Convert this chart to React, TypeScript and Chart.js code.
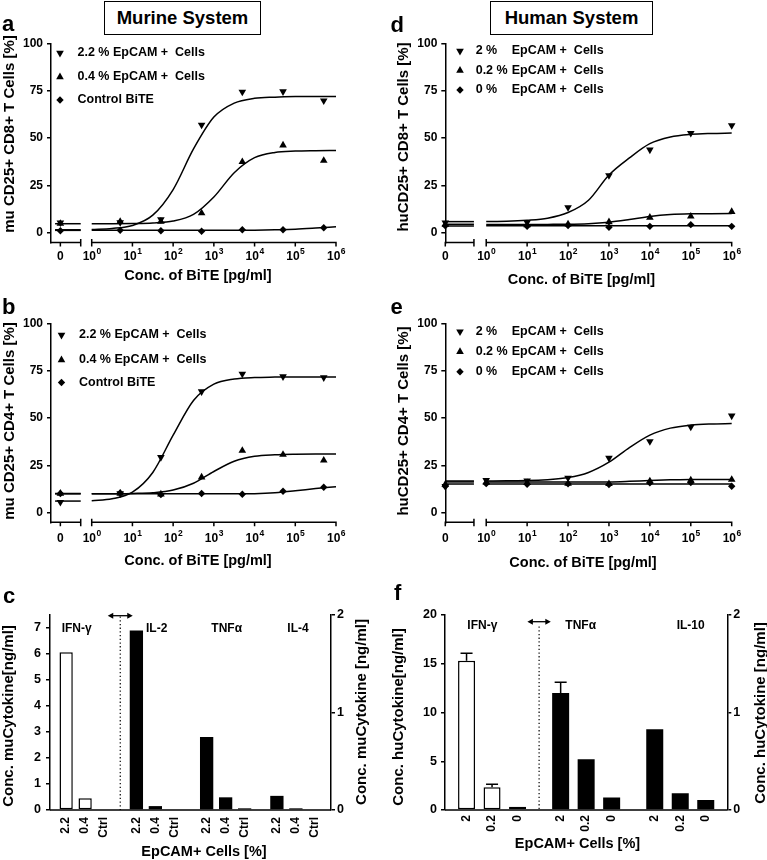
import React, { useEffect, useRef } from 'react';
import { Chart, registerables } from 'chart.js';

Chart.register(...registerables);

const FONT = '"Liberation Sans", Arial, Helvetica, sans-serif';
const BLACK = '#000';
Chart.defaults.font.family = FONT;
Chart.defaults.font.weight = 'bold';
Chart.defaults.color = BLACK;

// ---------------- data: dose-response panels ----------------
const CONC_MU = [0, 5, 50, 500, 5000, 50000, 500000];
const CONC_HU_D = [0, 10, 100, 1000, 10000, 100000, 1000000];
const CONC_HU_E = [0, 1, 10, 100, 1000, 10000, 100000, 1000000];
const FIT_LOG_X = [0, 0.5, 1, 1.5, 2, 2.5, 3, 3.5, 4, 4.5, 5, 5.5, 6];
const X_EXPONENTS = [0, 1, 2, 3, 4, 5, 6];
const Y_TICKS_PCT = [0, 25, 50, 75, 100];
const X_TITLE = 'Conc. of BiTE [pg/ml]';

const MU_LEGEND = ['2.2 % EpCAM +  Cells', '0.4 % EpCAM +  Cells', 'Control BiTE'];
const HU_LEGEND_PCT = ['2 %', '0.2 %', '0 %'];
const HU_LEGEND_REST = ['EpCAM +  Cells', 'EpCAM +  Cells', 'EpCAM +  Cells'];

// panel a : mu CD8
const A_HIGH = [5.5, 5.6, 7.2, 57.0, 74.4, 74.6, 69.8];
const A_LOW = [5.0, 6.0, 6.1, 10.5, 37.5, 46.3, 38.2];
const A_CTRL = [1.2, 1.4, 1.2, 0.9, 1.7, 1.7, 2.8];
const A_HIGH_FIT = [1.9, 2.4, 4.0, 9.4, 22.9, 44.3, 61.1, 68.5, 71.0, 71.6, 71.9, 72.0, 72.0];
const A_LOW_FIT = [4.9, 4.9, 5.0, 5.3, 6.3, 9.8, 19.0, 31.8, 39.7, 42.5, 43.2, 43.4, 43.5];
const A_CTRL_FIT = [1.4, 1.4, 1.4, 1.4, 1.4, 1.4, 1.4, 1.4, 1.5, 1.7, 2.0, 2.6, 3.3];
const A_BREAK = [1.7, 4.9, 1.4];

// panel b : mu CD4
const B_HIGH = [5.6, 10.2, 29.3, 64.0, 73.3, 71.9, 71.4];
const B_LOW = [10.2, 10.2, 9.8, 18.8, 32.8, 30.7, 27.7];
const B_CTRL = [10.2, 10.5, 9.6, 10.2, 9.8, 11.4, 13.5];
const B_HIGH_FIT = [6.4, 7.4, 10.9, 21.3, 41.0, 59.3, 67.9, 70.6, 71.4, 71.6, 71.7, 71.7, 71.7];
const B_LOW_FIT = [10.0, 10.0, 10.2, 10.6, 12.0, 15.6, 21.8, 27.2, 29.8, 30.6, 30.9, 31.0, 31.0];
const B_CTRL_FIT = [10.0, 10.0, 10.0, 10.0, 10.0, 10.0, 10.0, 10.0, 10.1, 10.6, 11.6, 12.8, 13.8];
const B_BREAK = [6.2, 10.0, 10.2];

// panel d : hu CD8
const D_HIGH = [5.5, 5.6, 13.5, 30.4, 43.9, 52.6, 56.7];
const D_LOW = [4.5, 4.2, 4.7, 5.8, 8.2, 8.8, 11.2];
const D_CTRL = [3.8, 3.5, 4.0, 3.0, 3.5, 4.4, 3.5];
const D_HIGH_FIT = [6.1, 6.2, 6.7, 7.8, 10.8, 17.3, 30.6, 39.6, 47.1, 50.6, 52.0, 52.5, 52.7];
const D_LOW_FIT = [4.5, 4.5, 4.5, 4.55, 4.6, 4.9, 5.7, 7.1, 8.7, 9.7, 10.1, 10.2, 10.3];
const D_CTRL_FIT = [3.8, 3.8, 3.8, 3.8, 3.8, 3.8, 3.8, 3.8, 3.8, 3.8, 3.8, 3.8, 3.8];
const D_BREAK = [6.0, 4.6, 3.7];

// panel e : hu CD4
const E_HIGH = [14.0, 17.2, 17.0, 18.4, 28.9, 37.7, 45.3, 51.2];
const E_LOW = [15.0, 16.1, 15.8, 15.4, 15.3, 16.7, 17.2, 17.5];
const E_CTRL = [14.0, 15.4, 15.1, 15.3, 14.9, 15.8, 16.0, 14.0];
const E_HIGH_FIT = [16.8, 16.9, 17.0, 17.5, 18.6, 21.3, 26.7, 34.4, 41.0, 44.7, 46.3, 46.9, 47.1];
const E_LOW_FIT = [16.3, 16.3, 16.3, 16.3, 16.3, 16.3, 16.3, 16.6, 17.1, 17.4, 17.6, 17.6, 17.6];
const E_CTRL_FIT = [15.2, 15.2, 15.2, 15.2, 15.2, 15.2, 15.2, 15.2, 15.2, 15.2, 15.2, 15.2, 15.2];
const E_BREAK = [16.8, 16.3, 15.2];

// ---------------- data: cytokine panels ----------------
const C_CYTOKINES = ['IFN-γ', 'IL-2', 'TNFα', 'IL-4'];
const C_LEVELS = ['2.2', '0.4', 'Ctrl'];
const C_IFN = [6.06, 0.45, 0];
const C_IL2 = [1.84, 0.04, 0];
const C_TNF = [0.75, 0.13, 0.017];
const C_IL4 = [0.145, 0.017, 0];
const C_LEFT_TICKS = [0, 1, 2, 3, 4, 5, 6, 7];

const F_CYTOKINES = ['IFN-γ', 'TNFα', 'IL-10'];
const F_LEVELS = ['2', '0.2', '0'];
const F_IFN = [15.3, 2.33, 0.34];
const F_IFN_ERR = [0.77, 0.31, 0];
const F_TNF = [1.2, 0.52, 0.127];
const F_TNF_ERR = [0.11, 0, 0];
const F_IL10 = [0.827, 0.171, 0.103];
const F_IL10_ERR = [0, 0, 0];
const F_LEFT_TICKS = [0, 5, 10, 15, 20];
const RIGHT_TICKS = [0, 1, 2];

// ---------------- helpers ----------------
const STYLES = ['triangle', 'triangle', 'rectRot'];
const ROTS = [180, 0, 0];
const RADII = [4.4, 4.4, 3.7];

function toX(c: number, zeroPos: number) {
  return c === 0 ? zeroPos : Math.log10(c);
}

function drawMarker(ctx: CanvasRenderingContext2D, i: number, x: number, y: number) {
  const r = RADII[i];
  ctx.beginPath();
  if (i === 0) {
    ctx.moveTo(x, y + r);
    ctx.lineTo(x - r * 0.866, y - r * 0.5);
    ctx.lineTo(x + r * 0.866, y - r * 0.5);
  } else if (i === 1) {
    ctx.moveTo(x, y - r);
    ctx.lineTo(x - r * 0.866, y + r * 0.5);
    ctx.lineTo(x + r * 0.866, y + r * 0.5);
  } else {
    ctx.moveTo(x, y - r);
    ctx.lineTo(x + r, y);
    ctx.lineTo(x, y + r);
    ctx.lineTo(x - r, y);
  }
  ctx.closePath();
  ctx.fill();
}

function drawPow(ctx: CanvasRenderingContext2D, cx: number, y: number, e: number) {
  ctx.font = `bold 12px ${FONT}`;
  const w10 = ctx.measureText('10').width;
  ctx.font = `bold 8.5px ${FONT}`;
  const we = ctx.measureText(String(e)).width;
  const start = cx - (w10 + we) / 2;
  ctx.textAlign = 'left';
  ctx.font = `bold 12px ${FONT}`;
  ctx.fillText('10', start, y);
  ctx.font = `bold 8.5px ${FONT}`;
  ctx.fillText(String(e), start + w10 + 0.5, y - 5);
  ctx.textAlign = 'center';
}

function drawRotText(ctx: CanvasRenderingContext2D, t: string, x: number, y: number, align: CanvasTextAlign) {
  ctx.save();
  ctx.translate(x, y);
  ctx.rotate(-Math.PI / 2);
  ctx.textAlign = align;
  ctx.textBaseline = 'middle';
  ctx.fillText(t, 0, 0);
  ctx.restore();
}

function drawLetter(ctx: CanvasRenderingContext2D, l: string, x: number, y: number) {
  ctx.font = `bold 22px ${FONT}`;
  ctx.textAlign = 'left';
  ctx.textBaseline = 'alphabetic';
  ctx.fillText(l, x, y);
}

// ---------------- dose-response panel ----------------
type LineCfg = {
  letter: string; letterX: number; letterY: number;
  left: number; top: number; w: number; h: number;
  yW: number; padT: number; padR: number; padB: number;
  xMin: number; zeroPos: number; segEnd: number; breakStart: number;
  conc: number[]; points: number[][]; fits: number[][]; breaks: number[];
  yTitle: string; yTitleX: number; yTitleY: number;
  tickDy: number; titleDy: number; titleX: number;
  legendX: number; legendTextX: number; legendRestX: number; legendRows: number[];
  legend: string[]; legendRest?: string[];
};

const LINE_PANELS: LineCfg[] = [
  {
    letter: 'a', letterX: 2, letterY: 31, left: 0, top: 0, w: 383, h: 290,
    yW: 51, padT: 43.3, padR: 47, padB: 47.5,
    xMin: -1.0, zeroPos: -0.77, segEnd: -0.27, breakStart: -0.9,
    conc: CONC_MU, points: [A_HIGH, A_LOW, A_CTRL], fits: [A_HIGH_FIT, A_LOW_FIT, A_CTRL_FIT], breaks: A_BREAK,
    yTitle: 'mu CD25+ CD8+ T Cells [%]', yTitleX: 10, yTitleY: 134,
    tickDy: 14, titleDy: 33, titleX: 198,
    legendX: 60, legendTextX: 77.5, legendRestX: 0, legendRows: [53, 77, 100], legend: MU_LEGEND,
  },
  {
    letter: 'b', letterX: 2, letterY: 24, left: 0, top: 290, w: 383, h: 290,
    yW: 51, padT: 33.3, padR: 47, padB: 57.7,
    xMin: -1.0, zeroPos: -0.77, segEnd: -0.27, breakStart: -0.9,
    conc: CONC_MU, points: [B_HIGH, B_LOW, B_CTRL], fits: [B_HIGH_FIT, B_LOW_FIT, B_CTRL_FIT], breaks: B_BREAK,
    yTitle: 'mu CD25+ CD4+ T Cells [%]', yTitleX: 10, yTitleY: 131,
    tickDy: 16, titleDy: 38.5, titleX: 198,
    legendX: 61.5, legendTextX: 79, legendRestX: 0, legendRows: [45, 70, 92.5], legend: MU_LEGEND,
  },
  {
    letter: 'd', letterX: 6.5, letterY: 32, left: 384, top: 0, w: 383, h: 290,
    yW: 61.3, padT: 43.3, padR: 35.3, padB: 47.5,
    xMin: -1.0, zeroPos: -1.0, segEnd: -0.3, breakStart: -0.99,
    conc: CONC_HU_D, points: [D_HIGH, D_LOW, D_CTRL], fits: [D_HIGH_FIT, D_LOW_FIT, D_CTRL_FIT], breaks: D_BREAK,
    yTitle: 'huCD25+ CD8+ T Cells [%]', yTitleX: 20, yTitleY: 137,
    tickDy: 14.5, titleDy: 37.5, titleX: 197.5,
    legendX: 76, legendTextX: 91.7, legendRestX: 127.7, legendRows: [51, 70.5, 90], legend: HU_LEGEND_PCT, legendRest: HU_LEGEND_REST,
  },
  {
    letter: 'e', letterX: 6.5, letterY: 24, left: 384, top: 290, w: 383, h: 290,
    yW: 61.3, padT: 33.3, padR: 35.3, padB: 57.7,
    xMin: -1.0, zeroPos: -1.0, segEnd: -0.3, breakStart: -0.99,
    conc: CONC_HU_E, points: [E_HIGH, E_LOW, E_CTRL], fits: [E_HIGH_FIT, E_LOW_FIT, E_CTRL_FIT], breaks: E_BREAK,
    yTitle: 'huCD25+ CD4+ T Cells [%]', yTitleX: 20, yTitleY: 131,
    tickDy: 16, titleDy: 41, titleX: 199,
    legendX: 76, legendTextX: 91.7, legendRestX: 127.7, legendRows: [41.7, 61.7, 81.7], legend: HU_LEGEND_PCT, legendRest: HU_LEGEND_REST,
  },
];

function makeLinePlugin(c: LineCfg) {
  return {
    id: 'lineDecor',
    afterDraw(chart: any) {
      const ctx: CanvasRenderingContext2D = chart.ctx;
      const a = chart.chartArea;
      const xs = chart.scales.x;
      const px = (v: number) => xs.getPixelForValue(v);
      const y0 = a.bottom;
      ctx.save();
      ctx.strokeStyle = BLACK;
      ctx.fillStyle = BLACK;
      ctx.lineWidth = 1.5;
      ctx.beginPath();
      ctx.moveTo(a.left - 0.75, y0);
      ctx.lineTo(px(c.segEnd), y0);
      ctx.moveTo(px(0), y0);
      ctx.lineTo(px(6) + 0.75, y0);
      for (const v of [c.segEnd, 0]) {
        ctx.moveTo(px(v), y0 - 3.5);
        ctx.lineTo(px(v), y0 + 4);
      }
      for (const v of [c.zeroPos, ...X_EXPONENTS]) {
        ctx.moveTo(px(v), y0);
        ctx.lineTo(px(v), y0 + 4);
      }
      ctx.stroke();

      ctx.textBaseline = 'middle';
      ctx.textAlign = 'center';
      ctx.font = `bold 12px ${FONT}`;
      const ly = y0 + c.tickDy;
      ctx.fillText('0', px(c.zeroPos), ly);
      X_EXPONENTS.forEach((e) => drawPow(ctx, px(e), ly, e));

      ctx.font = `bold 14.5px ${FONT}`;
      ctx.textAlign = 'center';
      ctx.fillText(X_TITLE, c.titleX, y0 + c.titleDy);
      ctx.font = `bold 15px ${FONT}`;
      drawRotText(ctx, c.yTitle, c.yTitleX, c.yTitleY, 'center');

      ctx.font = `bold 12.5px ${FONT}`;
      ctx.textAlign = 'left';
      ctx.textBaseline = 'middle';
      c.legendRows.forEach((ry, i) => {
        drawMarker(ctx, i, c.legendX, ry);
        ctx.fillText(c.legend[i], c.legendTextX, ry);
        if (c.legendRest) ctx.fillText(c.legendRest[i], c.legendRestX, ry);
      });

      drawLetter(ctx, c.letter, c.letterX, c.letterY);
      ctx.restore();
    },
  };
}

function LinePanel({ c }: { c: LineCfg }) {
  const ref = useRef<HTMLCanvasElement>(null);
  useEffect(() => {
    const datasets: any[] = [];
    c.fits.forEach((f) => {
      datasets.push({
        type: 'line',
        data: FIT_LOG_X.map((x, k) => ({ x, y: f[k] })),
        borderColor: BLACK, borderWidth: 1.5, pointRadius: 0,
        cubicInterpolationMode: 'monotone', fill: false, clip: false,
      });
    });
    c.breaks.forEach((v) => {
      datasets.push({
        type: 'line',
        data: [{ x: c.breakStart, y: v }, { x: c.segEnd, y: v }],
        borderColor: BLACK, borderWidth: 1.5, pointRadius: 0, fill: false, clip: false,
      });
    });
    c.points.forEach((s, i) => {
      datasets.push({
        type: 'scatter',
        data: c.conc.map((cc, k) => ({ x: toX(cc, c.zeroPos), y: s[k] })),
        pointStyle: STYLES[i], rotation: ROTS[i], pointRadius: RADII[i],
        backgroundColor: BLACK, borderColor: BLACK, borderWidth: 0,
        showLine: false, clip: false,
      });
    });
    const chart = new Chart(ref.current as HTMLCanvasElement, {
      type: 'scatter',
      data: { datasets },
      options: {
        animation: false,
        responsive: false,
        maintainAspectRatio: false,
        events: [],
        layout: { padding: { left: 0, top: c.padT, right: c.padR, bottom: c.padB } },
        plugins: { legend: { display: false }, tooltip: { enabled: false } },
        scales: {
          x: { type: 'linear', display: false, min: c.xMin, max: 6 },
          y: {
            type: 'linear', min: -5, max: 100,
            afterFit: (s: any) => { s.width = c.yW; },
            afterBuildTicks: (s: any) => { s.ticks = Y_TICKS_PCT.map((v) => ({ value: v })); },
            border: { color: BLACK, width: 1.5 },
            grid: { drawOnChartArea: false, drawTicks: true, tickLength: 4, color: BLACK, lineWidth: 1.5 },
            ticks: { color: BLACK, font: { size: 12, weight: 'bold' }, padding: 4 },
          },
        },
      } as any,
      plugins: [makeLinePlugin(c)],
    });
    return () => chart.destroy();
  }, []);
  return (
    <canvas ref={ref} width={c.w} height={c.h}
      style={{ position: 'absolute', left: c.left, top: c.top, width: c.w, height: c.h }} />
  );
}

// ---------------- cytokine panel ----------------
type BarCfg = {
  letter: string; letterX: number; letterY: number;
  left: number; top: number; w: number; h: number;
  yLW: number; yRW: number; padT: number; padB: number;
  lMax: number; lTicks: number[]; lPad: number; rPad: number;
  cyto: string[]; levels: string[];
  leftVals: number[]; leftErr?: number[];
  rightVals: number[][]; rightErr?: number[][];
  catPct: number; barPct: number;
  cytoPos: number[][];
  yTitleL: string; yTitleLX: number; yTitleLY: number;
  yTitleR: string; yTitleRX: number; yTitleRY: number;
  arrowY: number; arrowHW: number; dotTop: number; labelGap: number;
  xTitleX: number; xTitleY: number;
};

const BAR_PANELS: BarCfg[] = [
  {
    letter: 'c', letterX: 3, letterY: 23, left: 0, top: 580, w: 383, h: 280,
    yLW: 50, yRW: 52, padT: 35, padB: 50,
    lMax: 7.49, lTicks: C_LEFT_TICKS, lPad: 5, rPad: 2,
    cyto: C_CYTOKINES, levels: C_LEVELS,
    leftVals: C_IFN, rightVals: [C_IL2, C_TNF, C_IL4],
    catPct: 0.811, barPct: 0.7,
    cytoPos: [[76.7, 48.5], [156.7, 48.5], [226.7, 48.5], [298, 48.5]],
    yTitleL: 'Conc. muCytokine[ng/ml]', yTitleLX: 9, yTitleLY: 136,
    yTitleR: 'Conc. muCytokine [ng/ml]', yTitleRX: 362, yTitleRY: 132,
    arrowY: 35.7, arrowHW: 12.5, dotTop: 36.5, labelGap: 7,
    xTitleX: 204, xTitleY: 272,
  },
  {
    letter: 'f', letterX: 10, letterY: 20, left: 384, top: 580, w: 383, h: 280,
    yLW: 61, yRW: 39.7, padT: 35, padB: 50,
    lMax: 20, lTicks: F_LEFT_TICKS, lPad: 4, rPad: 2,
    cyto: F_CYTOKINES, levels: F_LEVELS,
    leftVals: F_IFN, leftErr: F_IFN_ERR,
    rightVals: [F_TNF, F_IL10], rightErr: [F_TNF_ERR, F_IL10_ERR],
    catPct: 0.813, barPct: 0.667,
    cytoPos: [[98.3, 45.5], [196.7, 45.5], [306.7, 45.5]],
    yTitleL: 'Conc. huCytokine[ng/ml]', yTitleLX: 15, yTitleLY: 137,
    yTitleR: 'Conc. huCytokine [ng/ml]', yTitleRX: 376.5, yTitleRY: 133,
    arrowY: 41.7, arrowHW: 11.7, dotTop: 46.5, labelGap: 5,
    xTitleX: 193.5, xTitleY: 264,
  },
];

function makeBarPlugin(c: BarCfg) {
  const n = c.levels.length;
  return {
    id: 'barDecor',
    // decorations go under the bars
    beforeDatasetsDraw(chart: any) {
      const ctx: CanvasRenderingContext2D = chart.ctx;
      const a = chart.chartArea;
      const xs = chart.scales.x;
      ctx.save();
      ctx.fillStyle = BLACK;
      ctx.strokeStyle = BLACK;

      ctx.lineWidth = 1.5;
      ctx.beginPath();
      ctx.moveTo(a.left, a.bottom);
      ctx.lineTo(a.right, a.bottom);
      ctx.stroke();

      const dx = xs.getPixelForValue(0.5);
      ctx.save();
      ctx.setLineDash([1.3, 2.4]);
      ctx.lineWidth = 1.2;
      ctx.beginPath();
      ctx.moveTo(dx, c.dotTop);
      ctx.lineTo(dx, a.bottom);
      ctx.stroke();
      ctx.restore();

      ctx.lineWidth = 1.3;
      ctx.beginPath();
      ctx.moveTo(dx - c.arrowHW + 3, c.arrowY);
      ctx.lineTo(dx + c.arrowHW - 3, c.arrowY);
      ctx.stroke();
      for (const s of [-1, 1]) {
        const xe = dx + s * c.arrowHW;
        ctx.beginPath();
        ctx.moveTo(xe, c.arrowY);
        ctx.lineTo(xe - s * 5.5, c.arrowY - 3);
        ctx.lineTo(xe - s * 5.5, c.arrowY + 3);
        ctx.closePath();
        ctx.fill();
      }

      ctx.font = `bold 12px ${FONT}`;
      ctx.textAlign = 'center';
      ctx.textBaseline = 'middle';
      c.cyto.forEach((t, i) => ctx.fillText(t, c.cytoPos[i][0], c.cytoPos[i][1]));

      ctx.font = `bold 12px ${FONT}`;
      chart.data.datasets.forEach((ds: any, di: number) => {
        const meta = chart.getDatasetMeta(di);
        meta.data.forEach((el: any) => {
          drawRotText(ctx, c.levels[di % n], el.x, a.bottom + c.labelGap, 'right');
        });
      });

      ctx.font = `bold 14.5px ${FONT}`;
      ctx.textAlign = 'center';
      ctx.textBaseline = 'middle';
      ctx.fillText('EpCAM+ Cells [%]', c.xTitleX, c.xTitleY);
      ctx.font = `bold 15px ${FONT}`;
      drawRotText(ctx, c.yTitleL, c.yTitleLX, c.yTitleLY, 'center');
      drawRotText(ctx, c.yTitleR, c.yTitleRX, c.yTitleRY, 'center');

      drawLetter(ctx, c.letter, c.letterX, c.letterY);
      ctx.restore();
    },
    // error bars on top of the bars
    afterDatasetsDraw(chart: any) {
      const ctx: CanvasRenderingContext2D = chart.ctx;
      ctx.save();
      ctx.strokeStyle = BLACK;
      ctx.lineWidth = 1.5;
      chart.data.datasets.forEach((ds: any, di: number) => {
        const gi = di % n;
        const isLeft = ds.yAxisID === 'yL';
        const meta = chart.getDatasetMeta(di);
        const ys = chart.scales[ds.yAxisID];
        meta.data.forEach((el: any, k: number) => {
          const v = ds.data[k].y;
          let err = 0;
          if (isLeft) err = c.leftErr ? c.leftErr[gi] : 0;
          else if (c.rightErr) err = c.rightErr[k][gi];
          if (!err) return;
          const yt = ys.getPixelForValue(v + err);
          ctx.beginPath();
          ctx.moveTo(el.x, el.y);
          ctx.lineTo(el.x, yt);
          ctx.moveTo(el.x - 6, yt);
          ctx.lineTo(el.x + 6, yt);
          ctx.stroke();
        });
      });
      ctx.restore();
    },
  };
}

function BarPanel({ c }: { c: BarCfg }) {
  const ref = useRef<HTMLCanvasElement>(null);
  useEffect(() => {
    const common = { categoryPercentage: c.catPct, barPercentage: c.barPct };
    const datasets: any[] = [];
    c.levels.forEach((lv, gi) => {
      datasets.push({
        label: lv, yAxisID: 'yL', stack: 's' + gi,
        data: [{ x: c.cyto[0], y: c.leftVals[gi] }],
        backgroundColor: '#fff', borderColor: BLACK, borderWidth: 1.5, borderSkipped: false,
        ...common,
      });
    });
    c.levels.forEach((lv, gi) => {
      datasets.push({
        label: lv, yAxisID: 'yR', stack: 's' + gi,
        data: c.rightVals.map((vals, k) => ({ x: c.cyto[k + 1], y: vals[gi] })),
        backgroundColor: BLACK, borderColor: BLACK, borderWidth: 0,
        ...common,
      });
    });
    const axisCommon = {
      type: 'linear', min: 0, stacked: false,
      border: { color: BLACK, width: 1.5 },
      grid: { drawOnChartArea: false, drawTicks: true, tickLength: 4, color: BLACK, lineWidth: 1.5 },
    };
    const chart = new Chart(ref.current as HTMLCanvasElement, {
      type: 'bar',
      data: { labels: c.cyto, datasets },
      options: {
        animation: false,
        responsive: false,
        maintainAspectRatio: false,
        events: [],
        layout: { padding: { left: 0, right: 0, top: c.padT, bottom: c.padB } },
        plugins: { legend: { display: false }, tooltip: { enabled: false } },
        scales: {
          x: { type: 'category', display: false, offset: true },
          yL: {
            ...axisCommon, position: 'left', max: c.lMax,
            afterFit: (s: any) => { s.width = c.yLW; },
            afterBuildTicks: (s: any) => { s.ticks = c.lTicks.map((v) => ({ value: v })); },
            ticks: { color: BLACK, font: { size: 12.5, weight: 'bold' }, padding: c.lPad },
          },
          yR: {
            ...axisCommon, position: 'right', max: 2,
            afterFit: (s: any) => { s.width = c.yRW; },
            afterBuildTicks: (s: any) => { s.ticks = RIGHT_TICKS.map((v) => ({ value: v })); },
            ticks: { color: BLACK, font: { size: 12.5, weight: 'bold' }, padding: c.rPad },
          },
        },
      } as any,
      plugins: [makeBarPlugin(c)],
    });
    return () => chart.destroy();
  }, []);
  return (
    <canvas ref={ref} width={c.w} height={c.h}
      style={{ position: 'absolute', left: c.left, top: c.top, width: c.w, height: c.h }} />
  );
}

const boxStyle = (left: number, width: number): React.CSSProperties => ({
  position: 'absolute', left, top: 1, width, height: 34, boxSizing: 'border-box',
  border: '1.2px solid #000', display: 'flex', alignItems: 'center', justifyContent: 'center',
  fontFamily: FONT, fontWeight: 'bold', fontSize: 18.5, color: '#000', background: '#fff',
});

export default function App() {
  return (
    <div style={{ position: 'absolute', left: 0, top: 0, width: 767, height: 860, background: '#fff', overflow: 'hidden' }}>
      {LINE_PANELS.map((c, i) => <LinePanel key={'l' + i} c={c} />)}
      {BAR_PANELS.map((c, i) => <BarPanel key={'b' + i} c={c} />)}
      <div style={boxStyle(104, 157)}>Murine System</div>
      <div style={boxStyle(490, 163)}>Human System</div>
    </div>
  );
}
